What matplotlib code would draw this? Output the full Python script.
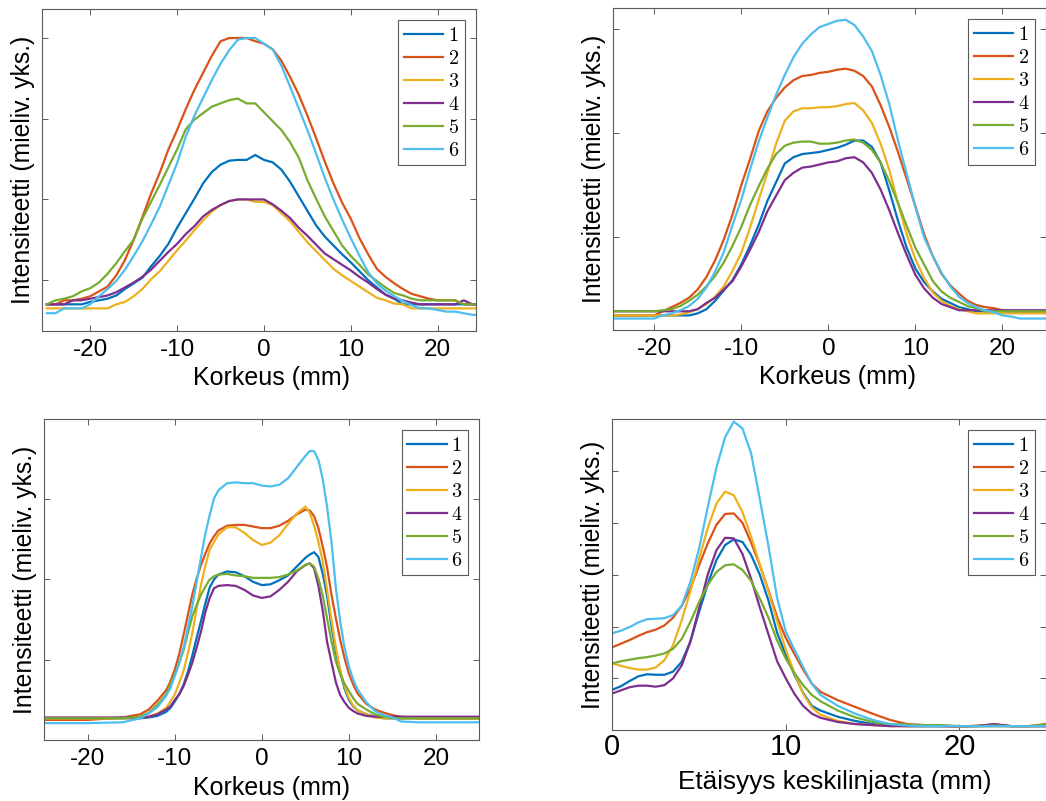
import matplotlib
matplotlib.use('Agg')
import matplotlib.pyplot as plt

plt.rcParams['font.family'] = ['Liberation Sans', 'DejaVu Sans']
plt.rcParams['mathtext.fontset'] = 'cm'

# MATLAB default line colours
colors = ['#0072BD', '#D95319', '#EDB120', '#7E2F8E', '#77AC30', '#4DBEEE']
labels = ['$1$', '$2$', '$3$', '$4$', '$5$', '$6$']

# --- panel A (top left), korkeus in mm ---
x_a = [-25, -24, -23, -22, -21, -20, -19, -18, -17, -16, -15, -14, -13, -12, -11, -10, -9, -8, -7, -6,
       -5, -4, -3, -2, -1, 0, 1, 2, 3, 4, 5, 6, 7, 8, 9, 10, 11, 12, 13, 14,
       15, 16, 17, 18, 19, 20, 21, 22, 23, 24, 25]
a1 = [0.70, 0.70, 0.70, 0.70, 0.70, 0.73, 0.75, 0.77, 0.81, 0.89, 0.96, 1.03, 1.17, 1.30, 1.45, 1.65, 1.83, 2.01, 2.20, 2.34,
      2.43, 2.48, 2.49, 2.49, 2.55, 2.49, 2.46, 2.37, 2.22, 2.04, 1.86, 1.68, 1.54, 1.43, 1.32, 1.22, 1.11, 1.00, 0.91, 0.82,
      0.77, 0.70, 0.70, 0.70, 0.70, 0.70, 0.70, 0.70, 0.70, 0.70, 0.70]
a2 = [0.70, 0.70, 0.75, 0.75, 0.77, 0.80, 0.86, 0.92, 1.06, 1.25, 1.50, 1.78, 2.07, 2.33, 2.62, 2.86, 3.12, 3.36, 3.57, 3.78,
      3.96, 4.00, 4.00, 4.00, 3.96, 3.93, 3.86, 3.72, 3.52, 3.30, 3.04, 2.76, 2.47, 2.20, 1.96, 1.76, 1.52, 1.32, 1.14, 1.04,
      0.96, 0.89, 0.83, 0.80, 0.77, 0.75, 0.75, 0.75, 0.70, 0.70, 0.70]
a3 = [0.65, 0.65, 0.65, 0.65, 0.65, 0.65, 0.65, 0.65, 0.70, 0.73, 0.80, 0.89, 1.01, 1.11, 1.24, 1.37, 1.49, 1.62, 1.74, 1.85,
      1.93, 1.98, 2.00, 2.00, 1.97, 1.97, 1.93, 1.83, 1.73, 1.60, 1.47, 1.36, 1.25, 1.14, 1.06, 0.99, 0.92, 0.85, 0.78, 0.75,
      0.71, 0.70, 0.65, 0.65, 0.65, 0.65, 0.65, 0.65, 0.65, 0.65, 0.65]
a4 = [0.70, 0.70, 0.70, 0.75, 0.75, 0.77, 0.79, 0.81, 0.85, 0.91, 0.97, 1.04, 1.13, 1.24, 1.35, 1.45, 1.57, 1.67, 1.79, 1.87,
      1.93, 1.98, 2.00, 2.00, 2.00, 2.00, 1.94, 1.86, 1.77, 1.65, 1.55, 1.44, 1.33, 1.26, 1.19, 1.12, 1.04, 0.97, 0.89, 0.82,
      0.77, 0.75, 0.72, 0.70, 0.70, 0.70, 0.70, 0.70, 0.75, 0.70, 0.70]
a5 = [0.70, 0.75, 0.77, 0.80, 0.86, 0.90, 0.97, 1.08, 1.21, 1.36, 1.50, 1.76, 1.97, 2.18, 2.40, 2.62, 2.87, 2.99, 3.07, 3.15,
      3.19, 3.23, 3.25, 3.19, 3.19, 3.08, 2.97, 2.86, 2.71, 2.52, 2.24, 2.01, 1.79, 1.61, 1.43, 1.30, 1.19, 1.07, 0.99, 0.91,
      0.84, 0.81, 0.77, 0.75, 0.75, 0.75, 0.75, 0.75, 0.70, 0.70, 0.70]
a6 = [0.59, 0.59, 0.65, 0.65, 0.65, 0.70, 0.80, 0.89, 0.99, 1.13, 1.30, 1.48, 1.69, 1.91, 2.18, 2.45, 2.78, 3.04, 3.26, 3.48,
      3.68, 3.85, 3.98, 4.00, 4.00, 3.93, 3.86, 3.66, 3.40, 3.13, 2.86, 2.57, 2.27, 2.00, 1.75, 1.52, 1.30, 1.10, 0.96, 0.87,
      0.80, 0.74, 0.69, 0.65, 0.65, 0.63, 0.61, 0.61, 0.59, 0.57, 0.57]

# --- panel B (top right) ---
x_b = x_a
b1 = [0.25, 0.25, 0.25, 0.25, 0.25, 0.25, 0.25, 0.25, 0.25, 0.25, 0.27, 0.31, 0.39, 0.49, 0.59, 0.74, 0.92, 1.12, 1.35, 1.53,
      1.71, 1.77, 1.80, 1.81, 1.82, 1.84, 1.86, 1.89, 1.93, 1.93, 1.87, 1.72, 1.45, 1.16, 0.90, 0.70, 0.57, 0.48, 0.41, 0.37,
      0.33, 0.31, 0.29, 0.29, 0.29, 0.29, 0.29, 0.29, 0.29, 0.29, 0.29]
b2 = [0.25, 0.25, 0.25, 0.25, 0.25, 0.25, 0.29, 0.33, 0.37, 0.42, 0.50, 0.62, 0.78, 0.98, 1.22, 1.50, 1.75, 2.02, 2.21, 2.34,
      2.44, 2.51, 2.55, 2.56, 2.58, 2.59, 2.61, 2.62, 2.60, 2.55, 2.45, 2.27, 2.06, 1.82, 1.56, 1.30, 1.03, 0.82, 0.65, 0.54,
      0.46, 0.39, 0.35, 0.33, 0.32, 0.30, 0.29, 0.29, 0.29, 0.29, 0.29]
b3 = [0.25, 0.25, 0.25, 0.25, 0.25, 0.25, 0.25, 0.25, 0.26, 0.28, 0.31, 0.36, 0.43, 0.53, 0.68, 0.85, 1.09, 1.36, 1.62, 1.90,
      2.12, 2.21, 2.24, 2.24, 2.25, 2.25, 2.26, 2.28, 2.29, 2.22, 2.10, 1.90, 1.65, 1.33, 1.03, 0.79, 0.61, 0.47, 0.39, 0.34,
      0.31, 0.29, 0.27, 0.27, 0.27, 0.27, 0.27, 0.27, 0.27, 0.27, 0.27]
b4 = [0.29, 0.29, 0.29, 0.29, 0.29, 0.29, 0.29, 0.29, 0.29, 0.29, 0.31, 0.37, 0.42, 0.50, 0.58, 0.72, 0.88, 1.05, 1.25, 1.40,
      1.55, 1.62, 1.67, 1.68, 1.70, 1.72, 1.73, 1.76, 1.77, 1.72, 1.62, 1.46, 1.26, 1.04, 0.83, 0.64, 0.51, 0.42, 0.36, 0.33,
      0.30, 0.30, 0.30, 0.30, 0.30, 0.30, 0.30, 0.30, 0.30, 0.30, 0.30]
b5 = [0.29, 0.29, 0.29, 0.29, 0.29, 0.29, 0.30, 0.31, 0.34, 0.39, 0.45, 0.53, 0.63, 0.76, 0.92, 1.10, 1.31, 1.49, 1.66, 1.80,
      1.88, 1.91, 1.92, 1.92, 1.90, 1.90, 1.91, 1.93, 1.94, 1.91, 1.84, 1.72, 1.54, 1.33, 1.11, 0.90, 0.74, 0.58, 0.48, 0.42,
      0.38, 0.34, 0.32, 0.29, 0.29, 0.29, 0.29, 0.29, 0.29, 0.29, 0.29]
b6 = [0.22, 0.22, 0.22, 0.22, 0.22, 0.22, 0.25, 0.27, 0.30, 0.34, 0.41, 0.52, 0.67, 0.86, 1.12, 1.36, 1.65, 1.92, 2.15, 2.37,
      2.56, 2.73, 2.86, 2.95, 3.02, 3.05, 3.08, 3.09, 3.04, 2.93, 2.79, 2.56, 2.28, 1.93, 1.61, 1.29, 1.00, 0.82, 0.66, 0.53,
      0.43, 0.37, 0.33, 0.30, 0.28, 0.25, 0.24, 0.22, 0.22, 0.22, 0.22]

# --- panel C (bottom left) ---
x_c = [-25, -20, -16, -14, -13, -12, -11, -10.5, -10, -9.5, -9, -8.5, -8, -7.5, -7, -6.5, -6, -5.5, -5, -4,
       -3, -2, -1, 0, 1, 2, 3, 4, 5, 5.5, 6, 6.5, 7, 7.5, 8, 8.5, 9, 9.5, 10, 10.5,
       11, 12, 13, 14, 15, 16, 18, 20, 25]
c1 = [0.27, 0.27, 0.27, 0.27, 0.28, 0.30, 0.35, 0.40, 0.48, 0.57, 0.69, 0.85, 1.05, 1.27, 1.48, 1.70, 1.90, 2.00, 2.06, 2.10,
      2.09, 2.04, 1.97, 1.93, 1.94, 1.99, 2.05, 2.16, 2.27, 2.31, 2.34, 2.28, 2.07, 1.79, 1.42, 1.10, 0.85, 0.64, 0.50, 0.42,
      0.37, 0.32, 0.29, 0.27, 0.27, 0.27, 0.27, 0.27, 0.27]
c2 = [0.25, 0.25, 0.28, 0.32, 0.38, 0.49, 0.62, 0.73, 0.88, 1.07, 1.31, 1.56, 1.81, 2.01, 2.18, 2.32, 2.45, 2.54, 2.61, 2.67,
      2.68, 2.68, 2.66, 2.64, 2.64, 2.67, 2.73, 2.81, 2.87, 2.86, 2.79, 2.64, 2.41, 2.15, 1.81, 1.52, 1.25, 1.02, 0.83, 0.69,
      0.58, 0.45, 0.38, 0.34, 0.31, 0.29, 0.27, 0.27, 0.27]
c3 = [0.27, 0.27, 0.27, 0.28, 0.29, 0.33, 0.40, 0.48, 0.57, 0.71, 0.86, 1.08, 1.33, 1.63, 1.93, 2.17, 2.37, 2.47, 2.56, 2.65,
      2.65, 2.58, 2.49, 2.43, 2.46, 2.55, 2.69, 2.82, 2.91, 2.83, 2.67, 2.47, 2.22, 1.87, 1.50, 1.15, 0.87, 0.67, 0.52, 0.43,
      0.37, 0.32, 0.28, 0.27, 0.27, 0.27, 0.27, 0.27, 0.27]
c4 = [0.28, 0.28, 0.28, 0.28, 0.29, 0.32, 0.38, 0.42, 0.50, 0.57, 0.67, 0.81, 0.96, 1.15, 1.35, 1.59, 1.77, 1.89, 1.92, 1.93,
      1.92, 1.87, 1.80, 1.77, 1.79, 1.87, 1.97, 2.10, 2.18, 2.20, 2.14, 1.92, 1.61, 1.22, 0.97, 0.72, 0.56, 0.47, 0.40, 0.36,
      0.33, 0.30, 0.29, 0.29, 0.29, 0.29, 0.29, 0.29, 0.29]
c5 = [0.27, 0.27, 0.27, 0.29, 0.34, 0.44, 0.57, 0.69, 0.82, 0.96, 1.12, 1.33, 1.54, 1.68, 1.81, 1.91, 2.00, 2.04, 2.06, 2.07,
      2.05, 2.04, 2.02, 2.02, 2.02, 2.03, 2.06, 2.11, 2.18, 2.20, 2.16, 2.01, 1.80, 1.51, 1.23, 0.98, 0.82, 0.70, 0.61, 0.52,
      0.45, 0.38, 0.32, 0.29, 0.27, 0.27, 0.27, 0.27, 0.27]
c6 = [0.21, 0.21, 0.22, 0.27, 0.33, 0.41, 0.55, 0.65, 0.80, 0.96, 1.15, 1.40, 1.66, 1.97, 2.27, 2.57, 2.80, 3.01, 3.11, 3.20,
      3.21, 3.20, 3.20, 3.17, 3.16, 3.18, 3.26, 3.40, 3.54, 3.60, 3.60, 3.49, 3.25, 2.90, 2.47, 1.90, 1.48, 1.15, 0.92, 0.75,
      0.63, 0.47, 0.36, 0.31, 0.28, 0.23, 0.22, 0.22, 0.22]

# --- panel D (bottom right), distance from centre line ---
x_d = [0, 0.5, 1, 1.5, 2, 2.5, 3, 3.5, 4, 4.5, 5, 5.5, 6, 6.5, 7, 7.5, 8, 8.5, 9, 9.5,
       10, 10.5, 11, 11.5, 12, 13, 14, 15, 16, 17, 18, 19, 20, 21, 22, 23, 24, 25]
d1 = [0.78, 0.85, 0.95, 1.04, 1.08, 1.07, 1.07, 1.13, 1.32, 1.71, 2.28, 2.82, 3.28, 3.57, 3.68, 3.63, 3.38, 3.00, 2.50, 1.88,
      1.45, 1.07, 0.72, 0.47, 0.38, 0.26, 0.18, 0.12, 0.09, 0.08, 0.08, 0.08, 0.08, 0.08, 0.08, 0.08, 0.08, 0.08]
d2 = [1.60, 1.67, 1.74, 1.82, 1.89, 1.94, 2.02, 2.17, 2.40, 2.73, 3.18, 3.60, 3.96, 4.17, 4.18, 4.00, 3.62, 3.18, 2.70, 2.18,
      1.78, 1.47, 1.17, 0.90, 0.74, 0.58, 0.45, 0.32, 0.20, 0.12, 0.10, 0.08, 0.07, 0.09, 0.11, 0.08, 0.08, 0.12]
d3 = [1.29, 1.24, 1.20, 1.17, 1.17, 1.21, 1.35, 1.64, 2.12, 2.68, 3.30, 3.90, 4.37, 4.60, 4.53, 4.21, 3.73, 3.20, 2.67, 2.10,
      1.55, 1.10, 0.70, 0.44, 0.30, 0.18, 0.12, 0.10, 0.08, 0.08, 0.08, 0.08, 0.08, 0.08, 0.08, 0.08, 0.08, 0.08]
d4 = [0.71, 0.77, 0.83, 0.86, 0.86, 0.84, 0.87, 1.00, 1.25, 1.71, 2.35, 3.00, 3.47, 3.71, 3.70, 3.40, 2.92, 2.37, 1.85, 1.33,
      1.00, 0.70, 0.47, 0.32, 0.24, 0.16, 0.12, 0.10, 0.08, 0.08, 0.08, 0.08, 0.08, 0.08, 0.12, 0.08, 0.08, 0.08]
d5 = [1.29, 1.33, 1.36, 1.39, 1.41, 1.44, 1.48, 1.57, 1.76, 2.09, 2.47, 2.80, 3.05, 3.18, 3.20, 3.09, 2.88, 2.54, 2.17, 1.73,
      1.38, 1.10, 0.87, 0.68, 0.56, 0.38, 0.25, 0.16, 0.12, 0.11, 0.10, 0.10, 0.08, 0.08, 0.09, 0.08, 0.08, 0.11]
d6 = [1.87, 1.92, 1.99, 2.08, 2.14, 2.15, 2.16, 2.22, 2.40, 2.86, 3.50, 4.30, 5.06, 5.65, 5.95, 5.82, 5.34, 4.46, 3.55, 2.55,
      1.90, 1.55, 1.22, 0.90, 0.68, 0.47, 0.32, 0.20, 0.12, 0.09, 0.08, 0.08, 0.08, 0.08, 0.08, 0.08, 0.08, 0.08]

ylab = 'Intensiteetti (mieliv. yks.)'
axcol = '#5a5a5a'

fig = plt.figure(figsize=(10.46, 8.01), dpi=100)


def panel(rect, x, series, xlim, ylim, yticks, xticks, xlabel, xlab_pos, tick_size, tick_pad, xlab_size=18):
    ax = fig.add_axes(rect)
    for y, c, lab in zip(series, colors, labels):
        ax.plot(x, y, color=c, lw=1.6, label=lab)
    ax.set_xlim(*xlim)
    ax.set_ylim(*ylim)
    ax.set_xticks(xticks)
    ax.set_xticklabels([str(t) for t in xticks])
    ax.set_yticks(yticks)
    ax.tick_params(direction='in', top=True, right=True, length=4, width=0.7,
                   color=axcol, labelleft=False, labelsize=tick_size, pad=tick_pad)
    for s in ax.spines.values():
        s.set_color(axcol)
        s.set_linewidth(0.8)
    ax.set_xlabel(xlabel, fontsize=xlab_size)
    ax.xaxis.set_label_coords(*xlab_pos)
    ax.set_ylabel(ylab, fontsize=17.8)
    ax.yaxis.set_label_coords(-0.016, 0.5)
    leg = ax.legend(loc='upper right', fontsize=14.5, handlelength=1.95, handletextpad=0.22,
                    labelspacing=0.2, borderpad=0.28, borderaxespad=0.55,
                    fancybox=False, framealpha=1)
    leg.get_frame().set_edgecolor(axcol)
    leg.get_frame().set_linewidth(0.8)
    return ax


panel([0.0402, 0.5868, 0.4149, 0.4020], x_a, [a1, a2, a3, a4, a5, a6],
      (-25.55, 24.42), (0.37, 4.36), [1, 2, 3, 4], [-20, -10, 0, 10, 20],
      'Korkeus (mm)', (0.528, -0.108), 17.5, 6)
panel([0.5863, 0.5880, 0.4137, 0.4016], x_b, [b1, b2, b3, b4, b5, b6],
      (-24.7, 25.0), (0.11, 3.20), [1, 2, 3], [-20, -10, 0, 10, 20],
      'Korkeus (mm)', (0.518, -0.108), 17.5, 6)
panel([0.0424, 0.0762, 0.4159, 0.4007], x_c, [c1, c2, c3, c4, c5, c6],
      (-25, 25), (0, 4), [1, 2, 3], [-20, -10, 0, 10, 20],
      'Korkeus (mm)', (0.522, -0.113), 17.5, 6)
panel([0.5854, 0.0883, 0.4146, 0.3886], x_d, [d1, d2, d3, d4, d5, d6],
      (0, 25), (0, 6), [1, 2, 3, 4, 5], [0, 10, 20],
      'Etäisyys keskilinjasta (mm)', (0.514, -0.127), 21, 2, xlab_size=18.8)

fig.savefig('out.png', dpi=100)
